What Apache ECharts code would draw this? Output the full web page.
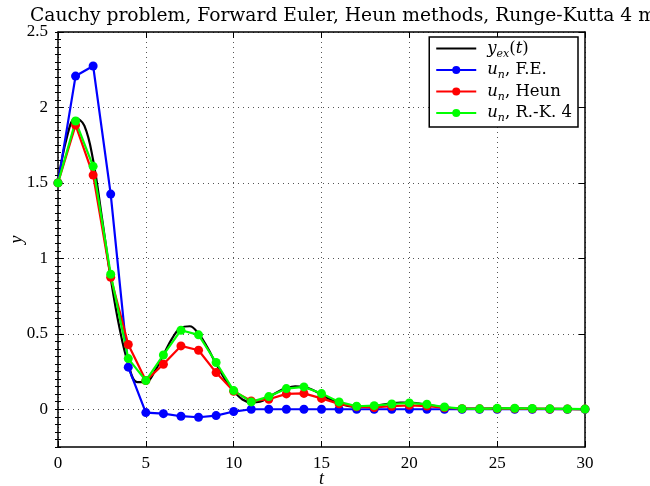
<!DOCTYPE html>
<html>
<head>
<meta charset="utf-8">
<script src="https://cdn.jsdelivr.net/npm/echarts@6/dist/echarts.min.js"></script>
<style>
  html, body { margin: 0; padding: 0; background: #fff; }
  #chart { width: 650px; height: 486px; }
</style>
</head>
<body>
<div id="chart"></div>
<script>
// time steps of the numerical methods
const tSteps = [0, 1, 2, 3, 4, 5, 6, 7, 8, 9, 10, 11, 12, 13, 14, 15, 16, 17, 18, 19, 20,
  21, 22, 23, 24, 25, 26, 27, 28, 29, 30];
const forwardEuler = [1.5, 2.208, 2.275, 1.426, 0.279, -0.022, -0.029, -0.046, -0.053, -0.042, -0.015,
  0, 0, 0, 0, 0, 0, 0, 0, 0, 0, 0, 0, 0, 0, 0, 0, 0, 0, 0, 0];
const heun = [1.5, 1.883, 1.552, 0.875, 0.429, 0.19, 0.298, 0.42, 0.391, 0.243, 0.119,
  0.055, 0.066, 0.102, 0.105, 0.072, 0.036, 0.016, 0.012, 0.02, 0.026,
  0.021, 0.01, 0.004, 0.003, 0.004, 0.004, 0.003, 0.002, 0.001, 0.001];
const rk4 = [1.5, 1.91, 1.61, 0.895, 0.336, 0.19, 0.36, 0.524, 0.493, 0.31, 0.124,
  0.049, 0.084, 0.137, 0.148, 0.104, 0.049, 0.02, 0.024, 0.035, 0.042,
  0.033, 0.015, 0.004, 0.003, 0.006, 0.007, 0.005, 0.003, 0.002, 0.001];

// exact solution, sampled off the black curve
const tExact = [0, 0.5, 1, 1.5, 2, 2.5, 3, 3.5, 4, 4.5, 5, 5.5, 6, 6.5, 7, 7.5, 8, 8.5, 9, 9.5,
  10, 10.5, 11, 11.5, 12, 12.5, 13, 13.5, 14, 14.5, 15, 15.5, 16, 16.5, 17, 17.5, 18, 18.5,
  19, 19.5, 20, 20.5, 21, 21.5, 22, 22.5, 23, 24, 25, 26, 27, 28, 29, 30];
const yExact = [1.5, 1.8, 1.93, 1.88, 1.65, 1.27, 0.87, 0.54, 0.3, 0.18, 0.18, 0.25, 0.36, 0.47,
  0.54, 0.55, 0.5, 0.41, 0.3, 0.2, 0.12, 0.065, 0.045, 0.05, 0.08, 0.115, 0.14, 0.152, 0.148,
  0.128, 0.097, 0.065, 0.04, 0.022, 0.015, 0.016, 0.022, 0.031, 0.04, 0.045, 0.045, 0.04,
  0.031, 0.021, 0.012, 0.006, 0.004, 0.004, 0.006, 0.006, 0.004, 0.003, 0.002, 0.001];

const xTicks = [0, 5, 10, 15, 20, 25, 30];
const yTicks = [0, 0.5, 1, 1.5, 2, 2.5];

const seriesNames = ["exact", "fe", "heun", "rk4"];
const legendLabels = {
  exact: "{i|y}{s|ex}({i|t})",
  fe: "{i|u}{s|n}, F.E.",
  heun: "{i|u}{s|n}, Heun",
  rk4: "{i|u}{s|n}, R.-K. 4",
};

const serif = "Liberation Serif";
const wideSerif = "DejaVu Serif";

const pair = (xs, ys) => xs.map((x, i) => [x, ys[i]]);

const chart = echarts.init(document.getElementById("chart"), null, { renderer: "canvas" });

const majorY = (pos) => ({
  type: "value",
  position: pos,
  min: -0.25,
  max: 2.5,
  interval: 0.25,
  axisLine: { show: true, onZero: false, lineStyle: { color: "#000", width: 1.5 } },
  axisTick: { show: true, inside: true, length: 6, customValues: yTicks, lineStyle: { color: "#000" } },
  axisLabel: pos === "left"
    ? { show: true, customValues: yTicks, fontFamily: serif, fontSize: 17, color: "#000", margin: 10 }
    : { show: false },
  splitLine: pos === "left"
    ? { show: true, lineStyle: { color: "#555", width: 1, type: [1, 4] } }
    : { show: false },
  name: pos === "left" ? "y" : "",
  nameLocation: "middle",
  nameGap: 32,
  nameMoveOverlap: false,
  nameTextStyle: { fontFamily: serif, fontStyle: "italic", fontSize: 18, color: "#000" },
});

const minorY = (pos) => ({
  type: "value",
  position: pos,
  min: -0.25,
  max: 2.5,
  interval: 0.05,
  axisLine: { show: false },
  axisTick: { show: true, inside: true, length: 3, lineStyle: { color: "#000" } },
  axisLabel: { show: false },
  splitLine: { show: false },
});

const option = {
  backgroundColor: "#fff",
  animation: false,
  title: {
    text: "Cauchy problem, Forward Euler, Heun methods, Runge-Kutta 4 m",
    left: 25,
    top: 2,
    textStyle: { fontFamily: wideSerif, fontSize: 18.7, fontWeight: "normal", color: "#000" },
  },
  grid: { left: 58, right: 65, top: 32, bottom: 39, containLabel: false, outerBoundsMode: "none" },
  legend: {
    orient: "vertical",
    right: 72,
    top: 37,
    data: [
      { name: "exact", itemStyle: { opacity: 0 } },
      "fe",
      "heun",
      "rk4",
    ],
    backgroundColor: "#fff",
    borderColor: "#000",
    borderWidth: 1.5,
    borderRadius: 0,
    padding: [3, 6, 3, 6],
    itemGap: 2,
    itemWidth: 40,
    itemHeight: 10,
    formatter: (name) => legendLabels[name],
    textStyle: {
      fontFamily: wideSerif,
      fontSize: 16.5,
      color: "#000",
      padding: [0, 0, 0, 6],
      rich: {
        i: { fontFamily: wideSerif, fontStyle: "italic", fontSize: 16.5 },
        s: { fontFamily: wideSerif, fontStyle: "italic", fontSize: 11, verticalAlign: "bottom", lineHeight: 22 },
      },
    },
  },
  xAxis: [
    {
      type: "value",
      position: "bottom",
      min: 0,
      max: 30,
      interval: 5,
      axisLine: { show: true, onZero: false, lineStyle: { color: "#000", width: 1.5 } },
      axisTick: { show: true, inside: true, length: 6, customValues: xTicks, lineStyle: { color: "#000" } },
      axisLabel: { customValues: xTicks, fontFamily: serif, fontSize: 17, color: "#000", margin: 8 },
      splitLine: { show: true, lineStyle: { color: "#555", width: 1, type: [1, 4] } },
      name: "t",
      nameLocation: "middle",
      nameGap: 23,
      nameMoveOverlap: false,
      nameTextStyle: { fontFamily: serif, fontStyle: "italic", fontSize: 18, color: "#000" },
    },
    {
      type: "value",
      position: "top",
      min: 0,
      max: 30,
      interval: 5,
      axisLine: { show: true, onZero: false, lineStyle: { color: "#000", width: 1.5 } },
      axisTick: { show: true, inside: true, length: 6, lineStyle: { color: "#000" } },
      axisLabel: { show: false },
      splitLine: { show: false },
    },
  ],
  yAxis: [majorY("left"), minorY("left"), majorY("right"), minorY("right")],
  series: [
    {
      name: "exact",
      type: "line",
      data: pair(tExact, yExact),
      smooth: 0.4,
      showSymbol: false,
      symbol: "none",
      lineStyle: { color: "#000", width: 2.2 },
      itemStyle: { color: "#000" },
    },
    {
      name: "fe",
      type: "line",
      data: pair(tSteps, forwardEuler),
      symbol: "circle",
      symbolSize: 9,
      lineStyle: { color: "#0000ff", width: 2.2 },
      itemStyle: { color: "#0000ff" },
    },
    {
      name: "heun",
      type: "line",
      data: pair(tSteps, heun),
      symbol: "circle",
      symbolSize: 9,
      lineStyle: { color: "#ff0000", width: 2.2 },
      itemStyle: { color: "#ff0000" },
    },
    {
      name: "rk4",
      type: "line",
      data: pair(tSteps, rk4),
      symbol: "circle",
      symbolSize: 9,
      lineStyle: { color: "#00ff00", width: 2.2 },
      itemStyle: { color: "#00ff00" },
    },
  ],
};

chart.setOption(option);
</script>
</body>
</html>
